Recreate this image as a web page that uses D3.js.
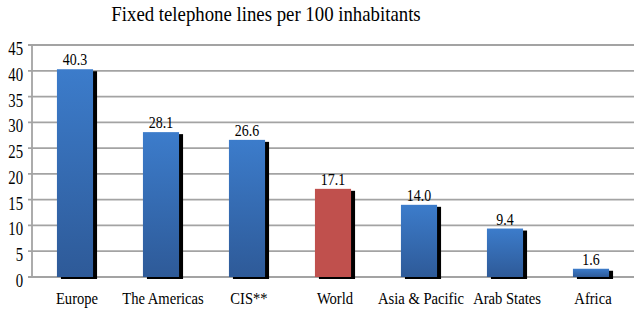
<!DOCTYPE html>
<html>
<head>
<meta charset="utf-8">
<script src="https://cdn.jsdelivr.net/npm/d3@7"></script>
<style>
  body { margin: 0; background: #fff; }
  svg { display: block; }
  svg text { font-family: "Liberation Serif", "DejaVu Serif", serif; fill: #000; }
</style>
</head>
<body>
<svg width="634" height="311"></svg>
<script>
var regions = ['Europe', 'The Americas', 'CIS**', 'World', 'Asia & Pacific', 'Arab States', 'Africa'];
var lines = [40.3, 28.1, 26.6, 17.1, 14.0, 9.4, 1.6];
var yTicks = [0, 5, 10, 15, 20, 25, 30, 35, 40, 45];
var title = 'Fixed telephone lines per 100 inhabitants';

var svg = d3.select('svg');
var width = 634, height = 311;
var padLeft = 32, padTop = 45, baseY = 277;

var x = d3.scaleBand()
    .domain(regions)
    .range([padLeft, width])
    .paddingInner(0.58)
    .paddingOuter(0.29);

var y = d3.scaleLinear()
    .domain([0, 45])
    .range([baseY, padTop]);

var defs = svg.append('defs');
var grad = defs.append('linearGradient')
    .attr('id', 'blue')
    .attr('x1', 0).attr('y1', 0).attr('x2', 0).attr('y2', 1);
grad.append('stop').attr('offset', '0%').attr('stop-color', '#3c7ccb');
grad.append('stop').attr('offset', '100%').attr('stop-color', '#2e5a98');

// condensed look of the original: scale text horizontally
function squeeze(sel, k) {
  sel.attr('transform', function() {
    var tx = +d3.select(this).attr('x'), ty = +d3.select(this).attr('y');
    return 'translate(' + tx + ',' + ty + ') scale(' + k + ',1)';
  }).attr('x', 0).attr('y', 0);
}

// title
svg.append('text')
    .attr('x', 266)
    .attr('y', 21)
    .attr('text-anchor', 'middle')
    .style('font-size', '20px')
    .text(title)
    .call(squeeze, 0.94);

// gridlines
svg.append('g').selectAll('line')
    .data(yTicks)
    .enter()
    .append('line')
    .attr('x1', padLeft - 4)
    .attr('x2', width)
    .attr('y1', function(d){ return y(d); })
    .attr('y2', function(d){ return y(d); })
    .attr('stroke', '#a3a3a3')
    .attr('stroke-width', 1.8);

// y tick labels
svg.append('g').selectAll('text')
    .data(yTicks)
    .enter()
    .append('text')
    .attr('x', 23)
    .attr('y', function(d){ return y(d) + 10; })
    .attr('text-anchor', 'end')
    .style('font-size', '18px')
    .text(function(d){ return d; })
    .each(function(){ d3.select(this).call(squeeze, 0.82); });

svg.append('line')
    .attr('x1', padLeft).attr('x2', padLeft)
    .attr('y1', padTop).attr('y2', baseY)
    .attr('stroke', '#a3a3a3')
    .attr('stroke-width', 1.8);

// bars
var bars = svg.append('g').selectAll('g')
    .data(regions)
    .enter()
    .append('g');

bars.append('rect')
    .attr('x', function(d){ return x(d) + 4; })
    .attr('y', function(d, i){ return y(lines[i]) + 2; })
    .attr('width', x.bandwidth())
    .attr('height', function(d, i){ return baseY - y(lines[i]); })
    .attr('fill', '#000');

bars.append('rect')
    .attr('x', function(d){ return x(d); })
    .attr('y', function(d, i){ return y(lines[i]); })
    .attr('width', x.bandwidth())
    .attr('height', function(d, i){ return baseY - y(lines[i]); })
    .attr('fill', function(d){ return d == 'World' ? '#c0504d' : 'url(#blue)'; });

bars.append('text')
    .attr('x', function(d){ return x(d) + x.bandwidth() / 2; })
    .attr('y', function(d, i){ return y(lines[i]) - 4; })
    .attr('text-anchor', 'middle')
    .style('font-size', '17px')
    .text(function(d, i){ return lines[i].toFixed(1); })
    .each(function(){ d3.select(this).call(squeeze, 0.82); });

// x labels
svg.append('g').selectAll('text')
    .data(regions)
    .enter()
    .append('text')
    .attr('x', function(d){ return x(d) + x.bandwidth() / 2 + 2; })
    .attr('y', 304)
    .attr('text-anchor', 'middle')
    .style('font-size', '17px')
    .text(function(d){ return d; })
    .each(function(){ d3.select(this).call(squeeze, 0.86); });
</script>
</body>
</html>
